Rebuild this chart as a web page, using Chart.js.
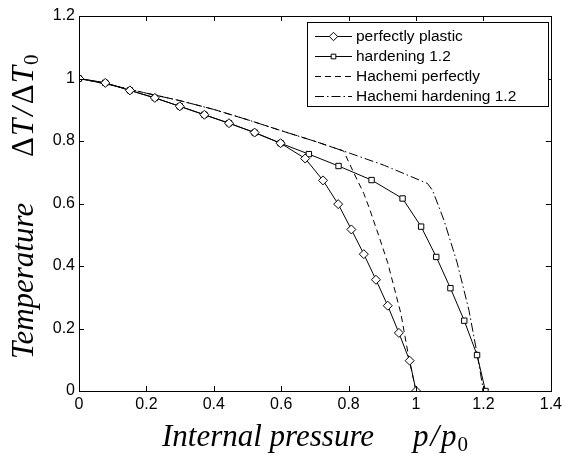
<!DOCTYPE html>
<html><head><meta charset="utf-8">
<script src="https://cdn.jsdelivr.net/npm/chart.js@4.4.1/dist/chart.umd.min.js"></script>
<style>html,body{margin:0;padding:0;background:#fff;} canvas{display:block;}</style>
</head><body>
<canvas id="c" width="566" height="454"></canvas>
<script>
// ---- data ----
const seriesLabels = ['perfectly plastic', 'hardening 1.2', 'Hachemi perfectly', 'Hachemi hardening 1.2'];

const plasticX = [0, 0.078, 0.151, 0.225, 0.299, 0.372, 0.445, 0.521, 0.598, 0.671, 0.724, 0.769, 0.808, 0.845, 0.881, 0.916, 0.949, 0.981, 1.0];
const plasticY = [1.0, 0.986, 0.962, 0.938, 0.911, 0.884, 0.857, 0.827, 0.793, 0.744, 0.674, 0.598, 0.517, 0.438, 0.356, 0.273, 0.186, 0.097, 0];

const hardX = [0, 0.078, 0.151, 0.225, 0.299, 0.372, 0.445, 0.521, 0.598, 0.682, 0.770, 0.868, 0.960, 1.015, 1.060, 1.102, 1.143, 1.181, 1.206];
const hardY = [1.0, 0.986, 0.962, 0.938, 0.911, 0.884, 0.857, 0.827, 0.793, 0.758, 0.720, 0.675, 0.616, 0.526, 0.429, 0.329, 0.225, 0.115, 0];

const hachPerfX = [0, 0.1, 0.2, 0.3, 0.4, 0.5, 0.6, 0.7, 0.785, 0.814, 0.845, 0.86, 0.89, 0.916, 0.955, 0.98, 1.0];
const hachPerfY = [1.0, 0.978, 0.953, 0.929, 0.901, 0.868, 0.833, 0.799, 0.768, 0.701, 0.632, 0.589, 0.495, 0.41, 0.248, 0.098, 0];

const hachHardX = [0, 0.1, 0.2, 0.3, 0.4, 0.5, 0.6, 0.7, 0.785, 0.906, 1.034, 1.049, 1.083, 1.122, 1.157, 1.181, 1.2];
const hachHardY = [1.0, 0.978, 0.953, 0.929, 0.901, 0.868, 0.833, 0.799, 0.768, 0.722, 0.664, 0.642, 0.546, 0.41, 0.258, 0.12, 0];

const xTickLabels = ['0', '0.2', '0.4', '0.6', '0.8', '1', '1.2', '1.4'];
const yTickLabels = ['0', '0.2', '0.4', '0.6', '0.8', '1', '1.2'];

const xTitleMain = 'Internal pressure';
const xTitleParts = [['p', 'it', 2], ['/', 'it', 2], ['p', 'it', 1], ['0', 'sub', 0]];
const yTitleMain = 'Temperature';
const yTitleParts = [['Δ', 'up', 1], ['T', 'it', 3], ['/', 'it', 3], ['Δ', 'up', 1], ['T', 'it', 1], ['0', 'sub', 0]];

// ---- chart ----
const toPts = (xs, ys) => xs.map((x, i) => ({x: x, y: ys[i]}));

const SERIF = '"Liberation Serif", "Times New Roman", serif';
const SANS = '"Liberation Sans", Arial, sans-serif';

function drawParts(ctx, parts, start, fonts) {
  let pos = start;
  parts.forEach(p => {
    const [s, k, gap] = p;
    ctx.font = fonts[k];
    ctx.fillText(s, pos, k === 'sub' ? 5 : 0);
    pos += ctx.measureText(s).width + gap;
  });
}

const frame = {
  id: 'frame',
  afterDraw(chart) {
    const ctx = chart.ctx;
    const a = chart.chartArea;
    const xs = chart.scales.x, ys = chart.scales.y;
    ctx.save();
    ctx.strokeStyle = '#000';
    ctx.lineWidth = 1;
    // box
    ctx.strokeRect(Math.round(a.left) + 0.5, Math.round(a.top) + 0.5, Math.round(a.right - a.left), Math.round(a.bottom - a.top));
    // inward ticks
    const tl = 5;
    ctx.beginPath();
    xs.ticks.forEach(t => {
      const px = Math.round(xs.getPixelForValue(t.value)) + 0.5;
      ctx.moveTo(px, a.bottom); ctx.lineTo(px, a.bottom - tl);
      ctx.moveTo(px, a.top); ctx.lineTo(px, a.top + tl);
    });
    ys.ticks.forEach(t => {
      const py = Math.round(ys.getPixelForValue(t.value)) + 0.5;
      ctx.moveTo(a.left, py); ctx.lineTo(a.left + tl, py);
      ctx.moveTo(a.right, py); ctx.lineTo(a.right - tl, py);
    });
    ctx.stroke();

    // axis titles
    ctx.fillStyle = '#000';
    ctx.textBaseline = 'alphabetic';
    ctx.textAlign = 'left';
    const fonts = {it: 'italic 31px ' + SERIF, up: '31px ' + SERIF, sub: '21px ' + SERIF};
    // x title
    ctx.save();
    ctx.translate(0, 446);
    ctx.font = fonts.it;
    ctx.fillText(xTitleMain, 162, 0);
    drawParts(ctx, xTitleParts, 413, fonts);
    ctx.restore();
    // y title
    ctx.save();
    ctx.translate(33, 359);
    ctx.rotate(-Math.PI / 2);
    ctx.font = fonts.it;
    ctx.fillText(yTitleMain, 0, 0);
    drawParts(ctx, yTitleParts, 202, fonts);
    ctx.restore();

    // legend
    const L = 307.5, T = 22.5, R = 548.5, B = 106.5;
    ctx.fillStyle = '#fff';
    ctx.fillRect(L, T, R - L, B - T);
    ctx.strokeRect(L, T, R - L, B - T);
    const rows = [36, 56, 76, 96];
    chart.data.datasets.forEach((ds, i) => {
      const y = rows[i] + 0.5;
      ctx.save();
      ctx.strokeStyle = '#000';
      ctx.lineWidth = 1;
      ctx.setLineDash(ds.borderDash || []);
      ctx.beginPath();
      ctx.moveTo(315, y); ctx.lineTo(352, y);
      ctx.stroke();
      ctx.setLineDash([]);
      if (ds.pointRadius > 0) {
        ctx.fillStyle = '#fff';
        ctx.strokeStyle = '#000';
        Chart.helpers.drawPoint(ctx, {pointStyle: ds.pointStyle, radius: ds.legendRadius, rotation: 0, borderWidth: 1}, 333.5, y);
      }
      ctx.restore();
      ctx.fillStyle = '#000';
      ctx.font = '15.5px ' + SANS;
      ctx.textBaseline = 'middle';
      ctx.fillText(ds.label, 356, y + 0.5);
    });
    ctx.restore();
  }
};

new Chart(document.getElementById('c'), {
  type: 'line',
  data: {
    datasets: [
      {label: seriesLabels[0], data: toPts(plasticX, plasticY), borderColor: '#000', borderWidth: 1,
       pointStyle: 'rectRot', pointRadius: 4.5, legendRadius: 4.2, pointBackgroundColor: '#fff', pointBorderColor: '#000', pointBorderWidth: 1},
      {label: seriesLabels[1], data: toPts(hardX, hardY), borderColor: '#000', borderWidth: 1,
       pointStyle: 'rect', pointRadius: 3.8, legendRadius: 3.3, pointBackgroundColor: '#fff', pointBorderColor: '#000', pointBorderWidth: 1},
      {label: seriesLabels[2], data: toPts(hachPerfX, hachPerfY), borderColor: '#000', borderWidth: 1,
       borderDash: [6, 4], pointRadius: 0},
      {label: seriesLabels[3], data: toPts(hachHardX, hachHardY), borderColor: '#000', borderWidth: 1,
       borderDash: [9, 3, 1.5, 3], pointRadius: 0}
    ]
  },
  options: {
    responsive: false,
    animation: false,
    devicePixelRatio: 1,
    layout: {padding: {top: 16, right: 12, bottom: 0, left: 0}},
    plugins: {legend: {display: false}, tooltip: {enabled: false}},
    elements: {line: {tension: 0}},
    scales: {
      x: {
        type: 'linear', min: 0, max: 1.4,
        grid: {display: false, drawTicks: false, tickLength: 0},
        border: {display: false},
        ticks: {stepSize: 0.2, color: '#000', font: {family: SANS, size: 16}, padding: 4, maxRotation: 0,
                callback: (v, i) => xTickLabels[i]},
        afterFit: s => { s.height = 63; }
      },
      y: {
        type: 'linear', min: 0, max: 1.2,
        grid: {display: false, drawTicks: false, tickLength: 0},
        border: {display: false},
        ticks: {stepSize: 0.2, color: '#000', font: {family: SANS, size: 16}, padding: 4,
                callback: (v, i) => yTickLabels[i]},
        afterFit: s => { s.width = 79; }
      }
    }
  },
  plugins: [frame]
});
</script>
</body></html>
